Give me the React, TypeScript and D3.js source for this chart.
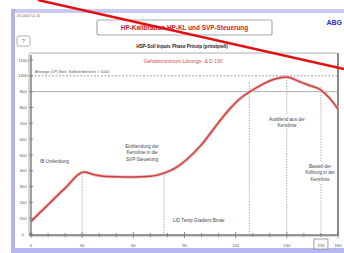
import React from "react";
import * as d3 from "d3";

const W = 344;
const H = 253;

const yTicks = [0, 100, 200, 300, 400, 500, 600, 700, 800, 900, 1000, 1100];
const xMajor = [0, 30, 60, 90, 120, 150, 180];
const xMinor = [10, 20, 40, 50, 70, 80, 100, 110, 130, 140, 160, 170];
const markedX = 170;

const curveX = [0, 10, 20, 31, 36, 41, 50, 60, 70, 78, 85, 91, 100, 108, 117, 123, 128, 133, 137, 143, 150, 157, 163, 170, 175, 180];
const curveY = [80, 185, 290, 392, 378, 367, 362, 360, 365, 385, 420, 468, 565, 677, 797, 860, 898, 930, 954, 980, 992, 965, 940, 910, 860, 790];

const phaseLines = [30, 78, 128, 150, 170];
const phaseTop = [400, 390, 960, 990, 930];
const refDashed = 1000;
const refSolid = 900;

const FONT = "'Liberation Sans', Arial, sans-serif";

export default function App() {
  const x = d3.scaleLinear().domain([0, 180]).range([31, 338]);
  const y = d3.scaleLinear().domain([0, 1100]).range([234, 60]);
  const pts: [number, number][] = curveX.map((v, i) => [v, curveY[i]]);
  const line = d3
    .line<[number, number]>()
    .x((d) => x(d[0]))
    .y((d) => y(d[1]))
    .curve(d3.curveMonotoneX);
  const path = line(pts) || "";

  const lbl = (lines: string[], cx: number, y0: number, anchor = "middle") =>
    lines.map((t, i) => (
      <text key={i} x={cx} y={y0 + i * 6.3} fontSize={4.6} fill="#444" textAnchor={anchor} fontFamily={FONT}>
        {t}
      </text>
    ));

  return (
    <svg width={W} height={H} style={{ position: "absolute", left: 0, top: 0, background: "#fff" }}>
      {/* window frame */}
      <rect x={11} y={9} width={W - 11} height={4} fill="#c9c9f2" />
      <rect x={11} y={9} width={4} height={H - 9} fill="#b4b4ee" />
      <rect x={11} y={248} width={W - 11} height={5} fill="#b8b8f0" />

      <text x={17} y={17} fontSize={4} fill="#666" fontFamily={FONT}>05.0007-0.11</text>
      <text x={342} y={25} fontSize={7} fontWeight="bold" fill="#2a2ad0" textAnchor="end" fontFamily={FONT}>ABG</text>

      {/* title box */}
      <rect x={97} y={20} width={175} height={15} rx={2} fill="#fff" stroke="#aaa" strokeWidth={1.2} />
      <text x={184.5} y={30} fontSize={6.4} fontWeight="bold" fill="#d02020" textAnchor="middle" fontFamily={FONT}>
        HP-Kalibration HP-KL und SVP-Steuerung
      </text>
      <text x={182} y={48} fontSize={4.6} fontWeight="bold" fill="#222" textAnchor="middle" fontFamily={FONT}>
        HSP-Soll Inputs Phase Prinzip (prinzipiell)
      </text>

      <rect x={17} y={36} width={13} height={10} rx={1.5} fill="#fff" stroke="#999" strokeWidth={0.8} />
      <text x={23.5} y={43} fontSize={4.5} fill="#555" textAnchor="middle" fontFamily={FONT}>?</text>

      {/* plot frame */}
      <rect x={29} y={53} width={309} height={183} rx={2} fill="#fff" stroke="#999" strokeWidth={0.8} />
      <line x1={338} y1={53} x2={338} y2={236} stroke="#777" strokeWidth={1.6} />

      {/* reference lines */}
      <line x1={x(0)} x2={x(180)} y1={y(refDashed)} y2={y(refDashed)} stroke="#888" strokeWidth={0.8} strokeDasharray="2,1.5" />
      <line x1={x(0)} x2={x(180)} y1={y(refSolid)} y2={y(refSolid)} stroke="#999" strokeWidth={0.8} />
      <text x={35} y={y(refDashed) - 3} fontSize={4} fill="#555" fontFamily={FONT}>
        Anzeige (LP) Betr. Sollwertbereich &gt; 1000
      </text>
      <text x={183} y={63} fontSize={5} fill="#d04848" textAnchor="middle" fontFamily={FONT}>
        Gehaltsminimum Lösungs- &amp; D 100
      </text>

      {/* phase lines */}
      {phaseLines.map((p, i) => (
        <line key={i} x1={x(p)} x2={x(p)} y1={y(phaseTop[i])} y2={y(0)} stroke="#888" strokeWidth={0.7} strokeDasharray="1.5,1.2" />
      ))}

      {/* curve */}
      <path d={path} fill="none" stroke="#f0b8b8" strokeWidth={3.2} />
      <path d={path} fill="none" stroke="#cc4040" strokeWidth={1.5} />

      {/* annotations */}
      <rect x={270} y={115} width={35} height={14} fill="#fff" />
      <rect x={305} y={162} width={32} height={22} fill="#fff" />
      {lbl(["IB Umlenkung"], 40, 163, "start")}
      {lbl(["Einblendung der", "Kennlinie in die", "SVP-Steuerung"], 142, 148)}
      {lbl(["Ausblend aus der", "Kennlinie"], 287, 121)}
      {lbl(["Bauteil der", "Kühlung in der", "Kennlinie"], 320, 168)}
      {lbl(["LID Temp.Gradient Bmax"], 173, 222, "start")}

      {/* y axis */}
      <line x1={31} x2={31} y1={55} y2={236} stroke="#777" strokeWidth={1.4} />
      {yTicks.map((t) => (
        <g key={t}>
          <line x1={29} x2={33} y1={y(t)} y2={y(t)} stroke="#777" strokeWidth={0.8} />
          <text x={23} y={y(t) + 1.6} fontSize={4.2} fill="#555" textAnchor="middle" fontFamily={FONT}>{t}</text>
        </g>
      ))}

      {/* x axis */}
      <line x1={29} x2={338} y1={235} y2={235} stroke="#777" strokeWidth={1.4} />
      {xMajor.map((t) => (
        <g key={t}>
          <line x1={x(t)} x2={x(t)} y1={232} y2={238} stroke="#777" strokeWidth={0.8} />
          <text x={x(t)} y={247} fontSize={4.2} fill="#555" textAnchor="middle" fontFamily={FONT}>{t}</text>
        </g>
      ))}
      {xMinor.map((t) => (
        <line key={t} x1={x(t)} x2={x(t)} y1={233} y2={237} stroke="#777" strokeWidth={0.8} />
      ))}
      <rect x={x(markedX) - 7} y={239} width={14} height={10} fill="#fff" stroke="#888" strokeWidth={0.8} />
      <text x={x(markedX)} y={246.5} fontSize={4.2} fill="#444" textAnchor="middle" fontFamily={FONT}>{markedX}</text>

      {/* red strike line */}
      <line x1={38} y1={0} x2={344} y2={69} stroke="#e01010" strokeWidth={2.4} />
    </svg>
  );
}
